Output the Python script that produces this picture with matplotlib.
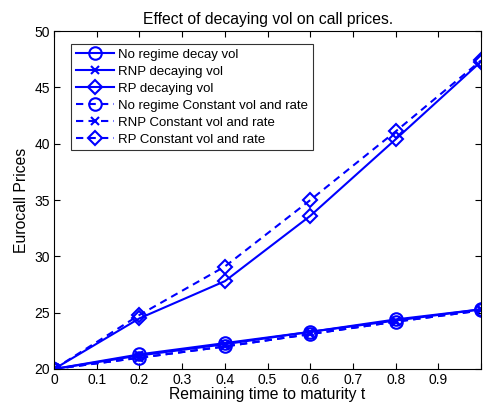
import matplotlib
matplotlib.use("Agg")
import matplotlib.pyplot as plt

plt.rcParams['font.family'] = ['Liberation Sans', 'DejaVu Sans']

t = [0, 0.2, 0.4, 0.6, 0.8, 1.0]

# decaying vol
noreg_decay = [20, 21.3, 22.3, 23.3, 24.4, 25.3]
rnp_decay = [20, 21.2, 22.2, 23.3, 24.3, 25.3]
rp_decay = [20, 24.5, 27.8, 33.6, 40.4, 47.3]

# constant vol and rate
noreg_const = [20, 21.0, 22.0, 23.1, 24.2, 25.2]
rnp_const = [20, 21.0, 22.0, 23.1, 24.2, 25.2]
rp_const = [20, 24.8, 29.1, 35.0, 41.1, 47.4]

labels = ["No regime decay vol", "RNP decaying vol", "RP decaying vol",
          "No regime Constant vol and rate", "RNP Constant vol and rate",
          "RP Constant vol and rate"]

xticks = [0, 0.1, 0.2, 0.3, 0.4, 0.5, 0.6, 0.7, 0.8, 0.9, 1]
# the "1" label falls off the right edge in the original
xticklabels = ["0", "0.1", "0.2", "0.3", "0.4", "0.5", "0.6", "0.7", "0.8", "0.9", ""]

fig = plt.figure(figsize=(4.83, 4.08), dpi=100)
ax = fig.add_axes([0.112, 0.0956, 0.884, 0.828])

blue = "#0000ff"
dash = (0, (3.5, 2.5))
kw = dict(color=blue, lw=1.5, mfc="none", mew=1.5)
ax.plot(t, noreg_decay, "-", marker="o", ms=9, label=labels[0], **kw)
ax.plot(t, rnp_decay, "-", marker="x", ms=6, label=labels[1], **kw)
ax.plot(t, rp_decay, "-", marker="D", ms=7.5, label=labels[2], **kw)
ax.plot(t, noreg_const, ls=dash, marker="o", ms=9, label=labels[3], **kw)
ax.plot(t, rnp_const, ls=dash, marker="x", ms=6, label=labels[4], **kw)
ax.plot(t, rp_const, ls=dash, marker="D", ms=7.5, label=labels[5], **kw)

ax.set_xlim(0, 1)
ax.set_ylim(20, 50)
ax.set_xticks(xticks)
ax.set_xticklabels(xticklabels)
ax.set_yticks([20, 25, 30, 35, 40, 45, 50])
ax.tick_params(direction="in", top=True, right=True, labelsize=10, length=4, pad=3)
for s in ax.spines.values():
    s.set_linewidth(0.8)

ax.set_xlabel("Remaining time to maturity t", fontsize=11.3, labelpad=0)
ax.set_ylabel("Eurocall Prices", fontsize=11.3, labelpad=4)
ax.set_title("Effect of decaying vol on call prices.", fontsize=11.3, pad=5)

leg = ax.legend(loc="upper left", bbox_to_anchor=(0.04, 0.962), fontsize=9.5,
                frameon=True, fancybox=False, edgecolor="black", handlelength=2.9,
                labelspacing=0.36, borderpad=0.35, handletextpad=0.3,
                borderaxespad=0)
leg.get_frame().set_linewidth(0.8)

fig.savefig("out.png", dpi=100)
